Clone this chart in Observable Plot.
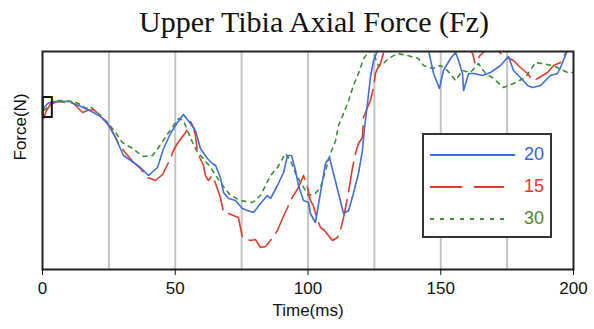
<!DOCTYPE html>
<html>
<head>
<meta charset="utf-8">
<script src="https://cdn.jsdelivr.net/npm/d3@7"></script>
<script src="https://cdn.jsdelivr.net/npm/@observablehq/plot@0.6"></script>
<style>
  html, body { margin: 0; padding: 0; background: #fff; }
  #wrap { position: relative; width: 594px; height: 329px; overflow: hidden; }
  #title { height: 44px; box-sizing: border-box; padding-top: 7px; padding-left: 34px; text-align: center;
           font-family: "Liberation Serif", "DejaVu Serif", serif; font-size: 30px; color: #111; line-height: 30px; white-space: nowrap; }
  #legend { position: absolute; left: 422px; top: 133px; width: 130px; height: 105px; box-sizing: border-box;
            border: 2px solid #333; background: #fff; font-family: "Liberation Sans", Arial, sans-serif; font-size: 18px; }
  #legend .row { position: absolute; left: 4px; width: 124px; height: 20px; }
  #legend svg { position: absolute; left: 0; top: 0; }
  #legend span { position: absolute; left: 96px; top: -1px; }
</style>
</head>
<body>
<div id="wrap">
  <div id="title">Upper Tibia Axial Force (Fz)</div>
  <div id="chart"></div>
  <div id="legend"></div>
</div>
<script>
// Series names and colours
const seriesNames = ["20", "15", "30"];
const seriesColors = ["#3f6fd8", "#e33b2a", "#3a8f33"];
const legendTextColors = ["#3a5fe0", "#e8352e", "#4c8a2a"];

// Time (ms) and force (arbitrary units, y axis unlabelled)
const t20 = [0.4,1.9,3.8,5.6,10.5,11.7,15.4,19.2,21.8,24.5,27.5,30.5,34.3,36.9,39.9,43.3,45.6,48.2,50.8,53.1,55.7,57.6,59.5,62.1,64,65.2,67,68.2,70.1,72.7,75.3,77.2,79.5,82.1,84.7,85.9,88.5,90.8,92.3,93.8,95.3,96.4,98.3,100.2,100.9,102.8,104,105.5,106.6,108.1,109.6,111.5,113.4,115.3,117.1,119,120.5,121.3,122.4,123.5,124.7,126.2,131,138.6,144,145.4,147.3,149.5,151,153.7,155.6,156.7,158.2,158.6,160.5,162.3,165.7,168.7,172.5,175.5,177.4,180,182.7,184.6,187.6,191.3,194,195.1,197.7,200];
const f20 = [161,166,168,168,168,166,162,157,153,146,132,114,107,102,94,102,121,136,147,155,146,139,121,111,106,104,92,77,71,69,61,59,57,66,74,71,84,97,114,114,99,84,69,67,56,47,66,89,106,112,96,76,56,59,76,96,119,142,166,192,209,219,234,239,231,219,196,181,199,211,217,209,196,179,196,196,194,197,204,213,199,192,184,182,184,194,196,202,219,231];

const t15 = [0.4,1.5,3,5.6,11.7,15.1,16.9,19.2,21.8,25.6,28.6,30.5,34.3,36.9,39.5,42.6,45.2,47.5,48.2,49.3,50.8,53.9,55.7,56.9,57.6,58.4,60.6,61.4,62.5,64,65.2,67,68.2,70.1,71.9,73.8,75.3,78.3,80.2,82.1,84,85.9,88.5,90.4,92.3,93.4,96.4,98.3,99.8,100.9,102,103.4,104.7,106.2,109.2,111.1,112.2,113.4,114.9,116,116.7,117.9,119,120.5,120.9,122.4,123.5,124.7,125.4,126.2,127.3,128.4,129.9,131,133,135,143,155.6,159.3,162,162.9,164.8,168.7,171.3,173.6,177.4,180,182.7,184.6,186.5,190.2,192.5,195.1,197,200];
const f15 = [151,159,165,168,166,157,159,160,154,142,126,119,107,101,92,89,95,107,111,119,126,137,148,142,134,117,104,94,89,94,86,72,57,56,54,52,32,29,30,22,23,29,39,51,62,69,82,94,82,69,64,51,42,39,29,32,39,52,72,89,101,116,126,132,152,162,169,182,196,201,206,216,219,227,229,231,229,217,224,216,206,214,224,219,214,209,202,196,189,191,197,204,207,216,227];

const t30 = [0.4,1.9,3.8,5.6,11.7,14.3,16.2,18.1,19.2,21.1,24.5,27.5,30.1,33.9,38,41.4,43.7,47.5,51.2,53.1,54.6,56.5,58.4,60.6,63.3,67,70.8,74.6,79.1,82.1,85.9,88.5,91.5,93.4,95.3,97.9,100.2,102.8,104.7,106.6,108.5,110.4,111.5,113.4,115.3,117.1,119,119.8,120.9,122.8,124.3,126.6,128.4,130.3,133.7,137.5,141.6,143.5,146.9,149.9,152.5,155.6,158.2,161.2,164.2,166.9,169.9,173.6,177.4,181.9,185.7,190.2,194,197.7,200];
const f30 = [159,162,167,169,168,165,161,163,160,156,147,137,127,121,113,114,122,137,151,149,139,127,117,111,102,87,74,69,67,74,94,102,116,109,96,84,74,76,82,99,116,129,144,156,169,184,196,202,211,217,219,203,206,211,216,214,211,204,201,204,199,189,199,197,206,196,191,182,186,192,207,205,202,197,197];

// x axis ticks and gridlines
const xTicks = [0, 50, 100, 150, 200];
const gridTimes = [25, 50, 75, 100, 125, 150, 175];
// small marker box near t = 0
const markerBox = [{t1: 0.3, t2: 3.7, f1: 152, f2: 172}];

const toRows = (ts, fs, name) => ts.map((t, i) => ({t, f: fs[i], series: name}));
const data20 = toRows(t20, f20, "20");
const data15 = toRows(t15, f15, "15");
const data30 = toRows(t30, f30, "30");

const plot = Plot.plot({
  width: 594,
  height: 285,
  marginTop: 7,
  marginLeft: 42,
  marginRight: 21,
  marginBottom: 60,
  style: {fontFamily: "'Liberation Sans', Arial, sans-serif", fontSize: "17px", color: "#111", background: "#fff"},
  x: {domain: [0, 200]},
  y: {domain: [0, 218], axis: null},
  marks: [
    Plot.ruleX(gridTimes, {stroke: "#c4c4c4", strokeWidth: 2}),
    Plot.line(data30, {x: "t", y: "f", stroke: seriesColors[2], strokeWidth: 1.6, strokeDasharray: "4,5", clip: true}),
    Plot.line(data15, {x: "t", y: "f", stroke: seriesColors[1], strokeWidth: 1.6, strokeDasharray: "30,8", clip: true}),
    Plot.line(data20, {x: "t", y: "f", stroke: seriesColors[0], strokeWidth: 1.6, clip: true}),
    Plot.rect(markerBox, {x1: "t1", x2: "t2", y1: "f1", y2: "f2", fill: "none", stroke: "#111", strokeWidth: 2}),
    Plot.frame({stroke: "#222", strokeWidth: 2}),
    Plot.axisX({ticks: xTicks, tickSize: 6, tickPadding: 6, tickFormat: d => String(d), label: null, fontSize: 17}),
    Plot.text(["Time(ms)"], {frameAnchor: "bottom", dy: 46, fontSize: 17}),
    Plot.text(["Force(N)"], {frameAnchor: "left", rotate: -90, dx: -22, fontSize: 17})
  ]
});
document.getElementById("chart").appendChild(plot);

// Legend (inside the plot, top-right area)
const legend = document.getElementById("legend");
const dashes = [null, "32,12", "4,6"];
const lineEnds = [87, 76, 82];
const rowTops = [10, 42, 74];
seriesNames.forEach((name, i) => {
  const row = document.createElement("div");
  row.className = "row";
  row.style.top = rowTops[i] + "px";
  const dash = dashes[i] ? ` stroke-dasharray="${dashes[i]}"` : "";
  row.innerHTML = `<svg width="92" height="20"><line x1="2" x2="${lineEnds[i]}" y1="10" y2="10" stroke="${seriesColors[i]}" stroke-width="2"${dash}/></svg><span style="color:${legendTextColors[i]}">${name}</span>`;
  legend.appendChild(row);
});
</script>
</body>
</html>
